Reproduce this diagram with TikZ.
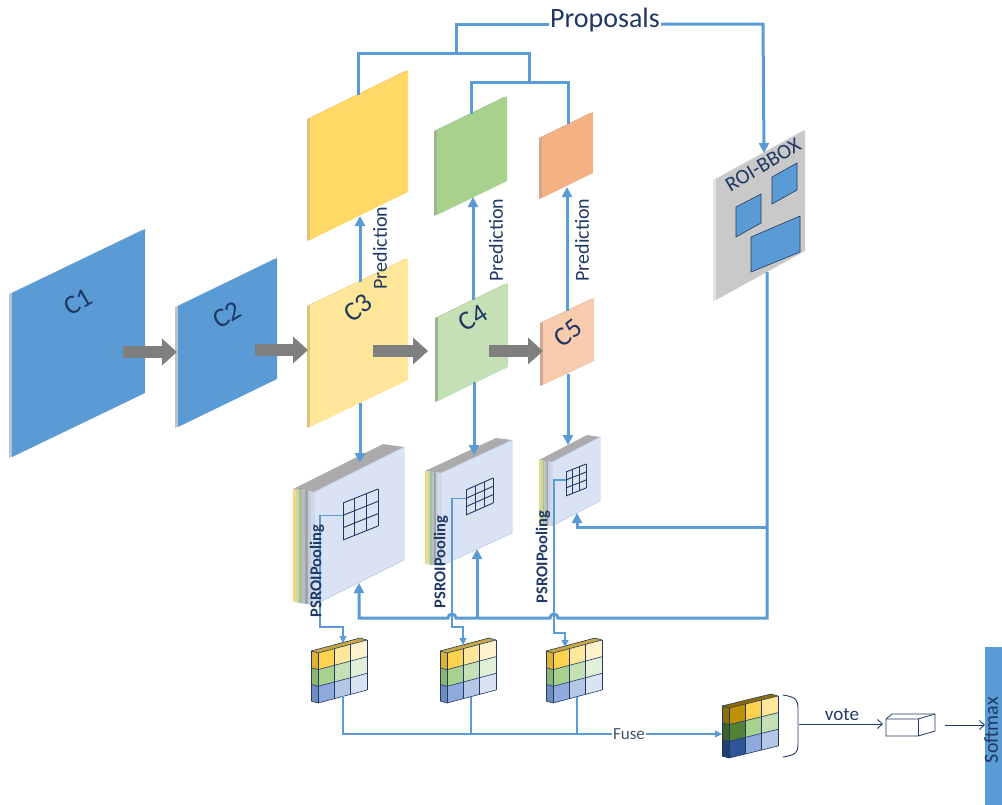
\documentclass[tikz,border=0pt]{standalone}
\usepackage{fontspec}
\setmainfont{Carlito}
\usetikzlibrary{arrows.meta}
\definecolor{navy}{HTML}{1F3864}
\definecolor{lineblue}{HTML}{5B9BD5}
\definecolor{cblue}{HTML}{5B9BD5}
\definecolor{edgeblue}{HTML}{B8C4D0}
\definecolor{arrowgray}{HTML}{7F7F7F}
\definecolor{pyel}{HTML}{FFD966}
\definecolor{cyel}{HTML}{FFE699}
\definecolor{eyel}{HTML}{E0C27A}
\definecolor{pgrn}{HTML}{A9D18E}
\definecolor{cgrn}{HTML}{C5E0B4}
\definecolor{egrn}{HTML}{9CB58C}
\definecolor{porg}{HTML}{F4B183}
\definecolor{corg}{HTML}{F8CBAD}
\definecolor{eorg}{HTML}{D0A890}
\definecolor{roigray}{HTML}{C9C9C9}
\definecolor{roiedge}{HTML}{E2E2E2}
\definecolor{psface}{HTML}{DAE3F3}
\definecolor{psedge}{HTML}{B4C7E7}
\definecolor{topgray}{HTML}{ABABAB}
\definecolor{sA}{HTML}{F2D680}
\definecolor{sB}{HTML}{C8D9A8}
\definecolor{sC}{HTML}{A9C08E}
\definecolor{sD}{HTML}{B8BEC4}
\definecolor{sE}{HTML}{9EA4AC}
\definecolor{sF}{HTML}{C4CCDA}
\definecolor{sG}{HTML}{D2DAEA}
\definecolor{fusecol}{HTML}{44546A}
% small grid colours
\definecolor{Y1}{HTML}{FFD24D}
\definecolor{Y2}{HTML}{FFE699}
\definecolor{Y3}{HTML}{FFF2CC}
\definecolor{G1}{HTML}{A9D18E}
\definecolor{G2}{HTML}{C5E0B4}
\definecolor{G3}{HTML}{E2F0D9}
\definecolor{B1}{HTML}{8FAADC}
\definecolor{B2}{HTML}{B4C7E7}
\definecolor{B3}{HTML}{DAE3F3}
\definecolor{sideY}{HTML}{E0B030}
\definecolor{sideG}{HTML}{8DB570}
\definecolor{sideB}{HTML}{6F8CC0}
\definecolor{topS}{HTML}{C9A640}
% fused grid colours
\definecolor{FY1}{HTML}{BF9000}
\definecolor{FG1}{HTML}{548235}
\definecolor{FB1}{HTML}{2F5597}
\definecolor{FsideY}{HTML}{8F6C00}
\definecolor{FsideG}{HTML}{3E6128}
\definecolor{FsideB}{HTML}{203F70}

% plane: x, y(top-left), w, h, rise, fill, edge
\newcommand\myplane[7]{%
  \fill[#7] ({#1-3},{#2+1}) -- ++(#3,-#5) -- ++(0,#4) -- ++(-#3,#5) -- cycle;
  \fill[#6] (#1,#2) -- ++(#3,-#5) -- ++(0,#4) -- ++(-#3,#5) -- cycle;
}
% PS stack: x, y, w, h, rise, depth x, depth y
\newcommand\psstack[7]{%
  \fill[topgray] (#1,#2) -- ++(#3,-#5) -- ++(-#6,-#7) -- ++(-#3,#5) -- cycle;
  \foreach \cl [count=\k from 0] in {sA,sB,sC,sD,sE,sF,sG}{%
    \fill[\cl] ({#1-#6+\k*#6/7},{#2-#7+\k*#7/7}) -- ++({#6/7},{#7/7}) -- ++(0,#4) -- ++({-#6/7},{-#7/7}) -- cycle;
  }
  \fill[psface,draw=psedge,line width=0.5pt] (#1,#2) -- ++(#3,-#5) -- ++(0,#4) -- ++(-#3,#5) -- cycle;
}
% navy grid: x, y, w, h, rise
\newcommand\psgrid[5]{%
  \foreach \k in {0,1,2,3}{%
    \draw[gridline] ({#1+\k*#3/3},{#2-\k*#5/3}) -- ++(0,#4);
    \draw[gridline] (#1,{#2+\k*#4/3}) -- ++(#3,-#5);
  }
}
% coloured grid: x, y, w, h, rise, cell list r/c/col, side list r/col, top colour
\newcommand\cgrid[8]{%
  \fill[#8] (#1,#2) -- ++(#3,-#5) -- ++(-7,-2) -- ++(-#3,#5) -- cycle;
  \foreach \rr/\cl in {#7}{%
    \fill[\cl] ({#1-7},{#2-2+\rr*#4/3}) -- ({#1},{#2+\rr*#4/3}) -- ++(0,{#4/3}) -- ++(-7,-2) -- cycle;
  }
  \foreach \rr/\cc/\cl in {#6}{%
    \fill[\cl] ({#1+\cc*#3/3},{#2+\rr*#4/3-\cc*#5/3}) -- ++({#3/3},{-#5/3}) -- ++(0,{#4/3}) -- ++({-#3/3},{#5/3}) -- cycle;
  }
  \foreach \k in {0,1,2,3}{%
    \draw[cgline] ({#1+\k*#3/3},{#2-\k*#5/3}) -- ++(0,#4);
    \draw[cgline] ({#1-7},{#2-2+\k*#4/3}) -- (#1,{#2+\k*#4/3}) -- ++(#3,-#5);
  }
  \draw[cgline] ({#1-7},{#2-2}) -- ++(0,#4);
  \draw[cgline] ({#1-7},{#2-2}) -- ++(#3,-#5) -- ++(7,2);
}

\begin{document}
\begin{tikzpicture}[x=1pt,y=-1pt,
  bl/.style={draw=lineblue,line width=3pt},
  blarrow/.style={bl,-{Triangle[length=10pt,width=10pt]}},
  thinl/.style={draw=lineblue,line width=1.1pt},
  thinarrow/.style={thinl,-{Triangle[length=7pt,width=7pt]}},
  grayarrow/.style={draw=arrowgray,line width=12pt,-{Triangle[length=15pt,width=26pt]}},
  navyarrow/.style={draw=navy,line width=0.9pt,-{Straight Barb[length=5pt,width=9pt]}},
  gridline/.style={draw=navy,line width=0.9pt},
  cgline/.style={draw=navy,line width=0.6pt},
  lbl/.style={text=navy,inner sep=1pt},
  roirect/.style={fill=cblue,draw=navy,line width=0.6pt},
]
\useasboundingbox (0,0) rectangle (1002,804);

% ---------- feature planes ----------
\myplane{12}{293}{133}{164}{64}{cblue}{edgeblue}
\myplane{178}{306}{99}{121}{48}{cblue}{edgeblue}
\myplane{310}{118}{98}{122}{48}{pyel}{eyel}
\myplane{310}{305}{98}{122}{47}{cyel}{eyel}
\myplane{437}{130}{70}{85}{34}{pgrn}{egrn}
\myplane{438}{317}{70}{84}{34}{cgrn}{egrn}
\myplane{542}{137}{51}{61}{25}{porg}{eorg}
\myplane{543}{322}{51}{63}{24}{corg}{eorg}
\myplane{716}{179}{89}{121}{49}{roigray}{roiedge}

% ROI boxes
\fill[roirect] (736,207) -- (761,194) -- (761,223) -- (736,237) -- cycle;
\fill[roirect] (772,177) -- (797,163) -- (797,190) -- (772,204) -- cycle;
\fill[roirect] (751,237) -- (800,216) -- (800,252) -- (751,272) -- cycle;

% ---------- PS stacks ----------
\psstack{314}{492}{90}{113}{45}{21}{3}
\psstack{441}{473}{71}{93}{33}{16}{2}
\psstack{552}{462}{48}{64}{25}{13}{2}
\psgrid{343}{503}{35}{37}{14}
\psgrid{466}{490}{27}{25}{12}
\psgrid{566}{472}{20}{24}{8}

% ---------- small grids ----------
\cgrid{318}{653}{49}{50}{13}{0/0/Y1,0/1/Y2,0/2/Y3,1/0/G1,1/1/G2,1/2/G3,2/0/B1,2/1/B2,2/2/B3}{0/sideY,1/sideG,2/sideB}{topS}
\cgrid{447}{653}{49}{50}{13}{0/0/Y1,0/1/Y2,0/2/Y3,1/0/G1,1/1/G2,1/2/G3,2/0/B1,2/1/B2,2/2/B3}{0/sideY,1/sideG,2/sideB}{topS}
\cgrid{553}{653}{49}{50}{13}{0/0/Y1,0/1/Y2,0/2/Y3,1/0/G1,1/1/G2,1/2/G3,2/0/B1,2/1/B2,2/2/B3}{0/sideY,1/sideG,2/sideB}{topS}
\cgrid{729}{708}{49}{50}{12}{0/0/FY1,0/1/Y1,0/2/Y2,1/0/FG1,1/1/G1,1/2/G2,2/0/FB1,2/1/B1,2/2/B2}{0/FsideY,1/FsideG,2/FsideB}{FsideY}

% ---------- named connection points ----------
\coordinate (p3t) at (358,95);
\coordinate (p4t) at (471,114);
\coordinate (p5t) at (568,124);
\coordinate (roit) at (764,153);
\coordinate (roib) at (767,272);
\coordinate (tl) at (456,24);
\coordinate (tr) at (763,24);
\coordinate (j1) at (456,53);
\coordinate (c3t) at (360,282);  \coordinate (p3b) at (360,216);
\coordinate (c4t) at (473,300);  \coordinate (p4b) at (473,197);
\coordinate (c5t) at (567,311);  \coordinate (p5b) at (567,187);
\coordinate (c3b) at (360,403);  \coordinate (ps3t) at (360,463);
\coordinate (c4b) at (474,382);  \coordinate (ps4t) at (474,455);
\coordinate (c5b) at (568,374);  \coordinate (ps5t) at (568,445);
\coordinate (ps3b) at (359,583);
\coordinate (ps4b) at (477,549);
\coordinate (ps5b) at (577,513);
\coordinate (g3s) at (343,515.3);
\coordinate (g4s) at (466,498.3);
\coordinate (g5s) at (566,480);
\coordinate (s3t) at (343,643);
\coordinate (s4t) at (463,645);
\coordinate (s5t) at (565,647);
\coordinate (s3b) at (343,696);
\coordinate (s4b) at (471,697);
\coordinate (s5b) at (577,697);
\coordinate (fgin) at (722,734);

% grey flow arrows
\coordinate (a1s) at (123,352); \coordinate (a1e) at (177,352);
\coordinate (a2s) at (255,350); \coordinate (a2e) at (308,350);
\coordinate (a3s) at (373,351); \coordinate (a3e) at (428,351);
\coordinate (a4s) at (489,351); \coordinate (a4e) at (543,351);
\draw[grayarrow] (a1s) -- (a1e);
\draw[grayarrow] (a2s) -- (a2e);
\draw[grayarrow] (a3s) -- (a3e);
\draw[grayarrow] (a4s) -- (a4e);

% ---------- proposals tree ----------
\node[lbl,font=\fontsize{28}{30}\selectfont] (prop) at (605,20) {Proposals};
\draw[bl,line join=miter] (p3t) -- (358,53) -- (529,53) -- (529,82);
\draw[bl,line join=miter] (p4t) -- (471,82) -- (568,82) -- (p5t);
\draw[bl,line join=miter] (j1) -- (tl) -- (prop.west |- tl);
\draw[blarrow,line join=miter] (prop.east |- tr) -- (tr) -- (roit);

% prediction arrows
\draw[blarrow] (c3t) -- (p3b);
\draw[blarrow] (c4t) -- (p4b);
\draw[blarrow] (c5t) -- (p5b);
% down arrows to PS stacks
\draw[blarrow] (c3b) -- (ps3t);
\draw[blarrow] (c4b) -- (ps4t);
\draw[blarrow] (c5b) -- (ps5t);

% ROI to PS stacks
\draw[blarrow,line join=miter] (roib) -- (767,618) -- (558,618) arc (0:-180:4) -- (456,618) arc (0:-180:4) -- (359,618) -- (ps3b);
\draw[blarrow] (477,618) -- (ps4b);
\draw[blarrow,line join=miter] (767,527) -- (577,527) -- (ps5b);

% thin PSROI connectors
\draw[thinarrow] (g3s) -- (320,515.3) -- (320,627) -- (343,627) -- (s3t);
\draw[thinarrow] (g4s) -- (452,498.3) -- (452,627) -- (463,627) -- (s4t);
\draw[thinarrow] (g5s) -- (554,480) -- (554,633) -- (565,633) -- (s5t);

% fuse
\node[text=fusecol,font=\fontsize{17}{19}\selectfont,inner sep=1pt] (fuse) at (629,734) {Fuse};
\draw[thinl] (s3b) -- (343,734) -- (fuse.west |- fgin);
\draw[thinl] (s4b) -- (471,734);
\draw[thinl] (s5b) -- (577,734);
\draw[thinarrow] (fuse.east |- fgin) -- (fgin);

% bracket, vote, box, softmax
\draw[navy,line width=0.9pt] (783,695) .. controls (796,697) and (798,700) .. (798,708) -- (798,745) .. controls (798,752) and (796,755) .. (783,757);
\coordinate (vs) at (799,724);
\coordinate (ve) at (883,724);
\draw[navyarrow] (vs) -- (ve);
\node[lbl,font=\fontsize{19}{21}\selectfont,anchor=base] (vote) at (842,720) {vote};
\draw[navy,line width=0.8pt,fill=white] (886,719) -- (892,714) -- (935,714) -- (935,731) -- (918,736) -- (886,736) -- cycle;
\draw[navy,line width=0.8pt] (886,719) -- (918,719) -- (935,714);
\draw[navy,line width=0.8pt] (918,719) -- (918,736);
\node[fill=cblue,anchor=north west,minimum width=30pt,minimum height=170pt,inner sep=0pt] (smbox) at (985,647) {};
\coordinate (ss) at (945,725);
\draw[navyarrow] (ss) -- (smbox.west |- ss);
\node[lbl,font=\fontsize{20}{22}\selectfont,rotate=90,inner sep=0pt] (smtext) at (991,730) {Softmax};

% ---------- labels ----------
\node[lbl,font=\fontsize{27}{30}\selectfont,rotate=30] (c1l) at (78,302) {C1};
\node[lbl,font=\fontsize{27}{30}\selectfont,rotate=30] (c2l) at (227,315) {C2};
\node[lbl,font=\fontsize{27}{30}\selectfont,rotate=38] (c3l) at (358,308) {C3};
\node[lbl,font=\fontsize{27}{30}\selectfont,rotate=33] (c4l) at (473,318) {C4};
\node[lbl,font=\fontsize{27}{30}\selectfont,rotate=38] (c5l) at (568,333) {C5};
\node[lbl,font=\fontsize{21}{24}\selectfont,rotate=31] (roil) at (763,165) {ROI-BBOX};
\node[lbl,font=\fontsize{20}{22}\selectfont,rotate=90] (pr3) at (380,248) {Prediction};
\node[lbl,font=\fontsize{20}{22}\selectfont,rotate=90] (pr4) at (496,240) {Prediction};
\node[lbl,font=\fontsize{20}{22}\selectfont,rotate=90] (pr5) at (582,240) {Prediction};
\node[lbl,font=\bfseries\fontsize{16.5}{18}\selectfont,rotate=90] (ps3l) at (317,571) {PSROIPooling};
\node[lbl,font=\bfseries\fontsize{16.5}{18}\selectfont,rotate=90] (ps4l) at (441,562) {PSROIPooling};
\node[lbl,font=\bfseries\fontsize{16.5}{18}\selectfont,rotate=90] (ps5l) at (543,557) {PSROIPooling};
\end{tikzpicture}
\end{document}
